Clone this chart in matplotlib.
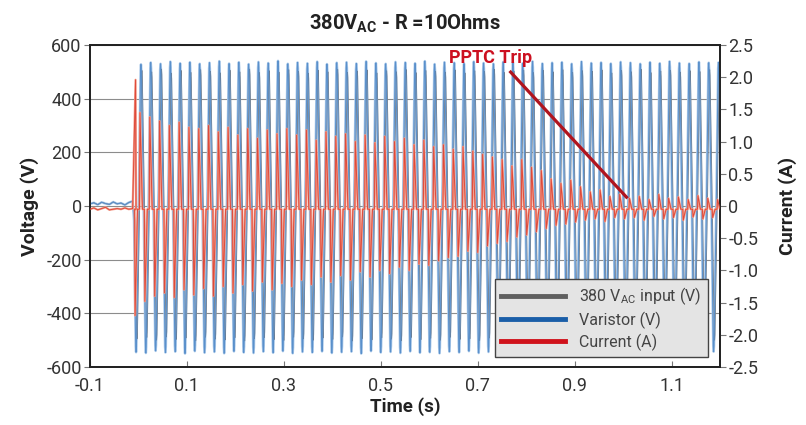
import numpy as np
import matplotlib
matplotlib.use("Agg")
import matplotlib.pyplot as plt
from matplotlib.lines import Line2D

# ---------------- data ----------------
title = "380V$_{\\mathregular{AC}}$ - R =10Ohms"
x_ticks = [-0.1, 0.1, 0.3, 0.5, 0.7, 0.9, 1.1]
v_ticks = [-600, -400, -200, 0, 200, 400, 600]
v_ticklabels = ["-600", "-400", "-200", "0", "200", "400", "600"]
i_ticks = [-2.5, -2.0, -1.5, -1.0, -0.5, 0, 0.5, 1.0, 1.5, 2.0, 2.5]
i_ticklabels = ["-2.5", "-2.0", "-1.5", "-1.0", "-0.5", "0", "0.5", "1.0", "1.5", "2.0", "2.5"]

# before the surge is applied (s, V / A)
pre_time = [-0.100, -0.092, -0.084, -0.076, -0.068, -0.060, -0.052, -0.044, -0.036, -0.028, -0.020, -0.012]
pre_voltage = [8, 12, 5, 14, 9, 6, 15, 8, 11, 4, 13, 18]
pre_current = [-0.05, -0.03, -0.06, -0.04, -0.02, -0.06, -0.05, -0.04, -0.05, -0.03, -0.05, -0.04]

onset_time = -0.010        # s
cycle_period = 0.0202      # s
spike_time = -0.006
spike_current = 1.96       # A

# per-cycle peak values (one per 50 Hz cycle)
varistor_pos = [528, 535, 530, 538, 532, 536, 530, 534, 540, 531, 536, 529, 537, 533, 541, 530,
                535, 532, 538, 529, 534, 536, 531, 539, 533, 530, 537, 535, 532, 540, 529, 536,
                534, 531, 538, 533, 530, 537, 535, 532, 539, 531, 534, 536, 530, 538, 533, 535,
                531, 537, 534, 530, 536, 532, 539, 533, 531, 537, 534, 535, 532]
varistor_neg = [-545, -548, -540, -546, -543, -550, -541, -547, -544, -549, -542, -546, -548, -543,
                -547, -541, -549, -544, -546, -542, -548, -545, -543, -550, -541, -546, -544, -548,
                -542, -547, -545, -549, -543, -546, -541, -548, -544, -547, -542, -549, -545, -543,
                -548, -541, -546, -544, -549, -542, -547, -545, -543, -548, -541, -546, -544, -547,
                -542, -549, -545, -543, -546]
input_pos = [505, 500, 510, 495, 505, 498, 508, 502, 496, 506, 500, 510, 497, 504, 499, 508,
             502, 495, 506, 500, 509, 498, 503, 507, 496, 504, 500, 508, 497, 505, 502, 499,
             507, 496, 504, 501, 509, 498, 503, 506, 497, 505, 500, 508, 498, 504, 502, 507,
             496, 505, 500, 509, 497, 503, 506, 499, 504, 501, 508, 498, 505]
input_neg = [-495, -490, -500, -488, -497, -492, -502, -489, -496, -499, -491, -503, -494, -490,
             -498, -501, -489, -495, -500, -492, -497, -488, -503, -494, -499, -491, -496, -502,
             -490, -498, -493, -500, -489, -497, -495, -501, -492, -498, -490, -503, -494, -496,
             -499, -491, -497, -502, -489, -495, -500, -493, -498, -490, -496, -501, -492, -499,
             -494, -497, -491, -500, -495]
current_pos = [1.45, 1.38, 1.32, 1.25, 1.30, 1.22,
               1.20, 1.25, 1.15, 1.22, 1.10,
               1.20, 1.05, 1.18, 1.12, 1.20,
               1.10, 1.18, 1.02, 1.15, 1.08,
               1.12, 1.00, 1.10, 0.98, 1.08,
               1.00, 1.05, 0.95, 1.02, 0.92,
               0.95, 0.88, 0.92, 0.85, 0.80,
               0.76, 0.72, 0.62, 0.72, 0.60,
               0.55, 0.42, 0.35, 0.40, 0.30,
               0.22, 0.25, 0.15, 0.18, 0.12,
               0.15, 0.10, 0.18, 0.12, 0.14, 0.10, 0.16, 0.12, 0.10, 0.14]
current_neg = [-1.70, -1.48, -1.40, -1.35, -1.42, -1.30,
               -1.38, -1.28, -1.40, -1.25, -1.35,
               -1.22, -1.32, -1.18, -1.30, -1.20,
               -1.25, -1.15, -1.22, -1.10, -1.18,
               -1.08, -1.15, -1.02, -1.10, -1.00,
               -1.05, -0.95, -1.00, -0.90, -0.92,
               -0.85, -0.80, -0.78, -0.70, -0.72,
               -0.62, -0.58, -0.55, -0.48, -0.45,
               -0.40, -0.35, -0.30, -0.28, -0.25,
               -0.22, -0.20, -0.24, -0.18, -0.20,
               -0.18, -0.22, -0.16, -0.20, -0.18, -0.22, -0.17, -0.20, -0.18, -0.21]

# ---------------- build traces from the peaks ----------------
def wave(pos, neg, shift):
    t, v = [], []
    for k, (p, n) in enumerate(zip(pos, neg)):
        s = onset_time + (k + shift) * cycle_period
        for ph, val in [(0.04, 0.1 * n), (0.21, 0.96 * n), (0.25, n), (0.29, 0.96 * n),
                        (0.54, 0.1 * p), (0.71, 0.96 * p), (0.75, p), (0.79, 0.96 * p)]:
            t.append(s + ph * cycle_period)
            v.append(val)
    return t, v

var_t, var_v = wave(varistor_pos, varistor_neg, 0.0)
var_t = pre_time + var_t
var_v = pre_voltage + var_v
inp_t, inp_v = wave(input_pos, input_neg, 0.1)
inp_t = pre_time + inp_t
inp_v = pre_voltage + inp_v

base = -0.05
cur_t, cur_i = list(pre_time), list(pre_current)
cur_t += [spike_time, spike_time + 0.001]
cur_i += [spike_current, base]
for k, (p, n) in enumerate(zip(current_pos, current_neg)):
    s = onset_time + k * cycle_period
    for ph, val in [(0.10, base), (0.15, n), (0.40, base), (0.60, base), (0.65, p), (0.90, base)]:
        cur_t.append(s + ph * cycle_period)
        cur_i.append(val)

# ---------------- draw ----------------
plt.rcParams['font.family'] = ['Roboto', 'DejaVu Sans']
fig = plt.figure(figsize=(8.06, 4.25), dpi=100)
ax = fig.add_axes([90 / 806, 1 - 367 / 425, 630 / 806, 322 / 425])
ax2 = ax.twinx()

ax.plot(var_t, var_v, color='#aecbea', lw=1.8, zorder=2)
ax.plot(inp_t, inp_v, color='#55606e', lw=0.6, zorder=3, alpha=0.75)
ax.plot(var_t, var_v, color='#5a90cb', lw=0.7, zorder=4)
ax2.plot(cur_t, cur_i, color='#f3a291', lw=1.6, zorder=2)
ax2.plot(cur_t, cur_i, color='#df4a3a', lw=0.7, zorder=3)

ax.set_xlim(-0.1, 1.2)
ax.set_ylim(-600, 600)
ax2.set_ylim(-2.5, 2.5)
ax.set_xticks(x_ticks)
ax.set_xticklabels([f"{v:.1f}" for v in x_ticks])
ax.set_yticks(v_ticks)
ax.set_yticklabels(v_ticklabels)
ax2.set_yticks(i_ticks)
ax2.set_yticklabels(i_ticklabels)
ax.grid(axis='y', color='#8c8c8c', lw=0.8)
ax.set_axisbelow(True)
ax.tick_params(axis='x', direction='in', length=4, labelsize=13, color='#777777', pad=7,
               labelcolor='#333333')
ax.tick_params(axis='y', direction='out', length=4, labelsize=13, color='#777777',
               labelcolor='#333333', pad=2)
ax2.tick_params(axis='y', direction='out', length=4, labelsize=13, color='#777777',
                labelcolor='#333333', pad=2)
for a in (ax, ax2):
    for sp in a.spines.values():
        sp.set_color('#222222')
        sp.set_linewidth(1.3)

ax.set_xlabel("Time (s)", fontsize=13.5, fontweight='bold', labelpad=2, color='#222222')
ax.set_ylabel("Voltage (V)", fontsize=14, fontweight='bold', labelpad=5, color='#222222')
ax2.set_ylabel("Current (A)", fontsize=14, fontweight='bold', labelpad=14, color='#222222')
ax.set_title(title, fontsize=14.5, fontweight='bold', pad=11, color='#222222')

ax2.plot([0.768, 1.007], [499 / 240, 33 / 240], color='#b0141e', lw=2.3, zorder=6)
ax2.text(0.727, 552 / 240, "PPTC Trip", color='#cc1020', fontsize=13, fontweight='bold',
         ha='center', va='center', zorder=6)

handles = [Line2D([], [], color='#5f5f5f', lw=3.5),
           Line2D([], [], color='#1a5ea8', lw=3.5),
           Line2D([], [], color='#d0121b', lw=3.5)]
labels = ["380 V$_{\\mathregular{AC}}$ input (V)", "Varistor (V)", "Current (A)"]
leg = ax2.legend(handles, labels, loc='lower right', bbox_to_anchor=(0.981, 0.031),
                 borderaxespad=0, fontsize=11.5, handlelength=4.0, frameon=True, fancybox=False,
                 facecolor='#e4e4e4', edgecolor='#444444', framealpha=1,
                 borderpad=0.4, labelspacing=0.28, handletextpad=0.9)
leg.set_zorder(10)
for t in leg.get_texts():
    t.set_color('#444444')

fig.savefig("out.png", dpi=100)
